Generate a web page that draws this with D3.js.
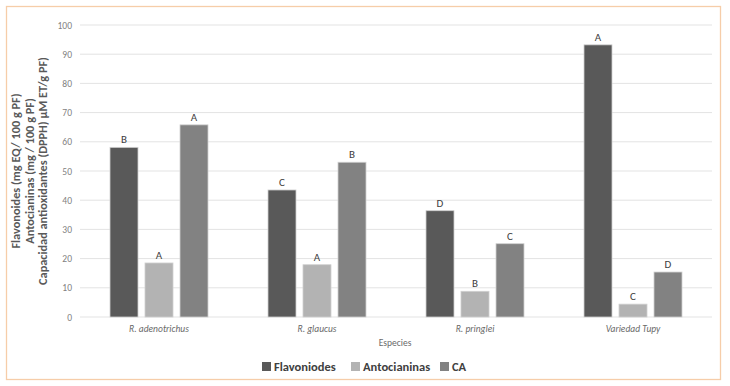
<!DOCTYPE html>
<html>
<head>
<meta charset="utf-8">
<script src="https://cdn.jsdelivr.net/npm/d3@7"></script>
<style>
  body { margin: 0; background: #fff; }
  svg { font-family: Calibri, Carlito, "Open Sans", sans-serif; }
</style>
</head>
<body>
<div id="chart"></div>
<script>
const SPECIES = ["R. adenotrichus", "R. glaucus", "R. pringlei", "Variedad Tupy"];
const SERIES = ["Flavoniodes", "Antocianinas", "CA"];
const FLAVONOIDES = [58.1, 43.5, 36.4, 93.2];
const ANTOCIANINAS = [18.5, 17.9, 8.8, 4.4];
const CA = [65.8, 53.0, 25.1, 15.4];
const LETTERS_FLAV = ["B", "C", "D", "A"];
const LETTERS_ANTO = ["A", "A", "B", "C"];
const LETTERS_CA = ["A", "B", "C", "D"];
const Y_TICKS = [0, 10, 20, 30, 40, 50, 60, 70, 80, 90, 100];
const COLORS = ["#595959", "#b3b3b3", "#828282"];

const W = 730, H = 386;
const margin = {left: 80, right: 18, top: 25, bottom: 69};

const svg = d3.select("#chart").append("svg")
  .attr("width", W).attr("height", H);

// outer frame
svg.append("rect")
  .attr("x", 6.5).attr("y", 6.5)
  .attr("width", 714).attr("height", 373)
  .attr("fill", "#fff")
  .attr("stroke", "#f6cda9").attr("stroke-width", 1.3);

const x0 = d3.scaleBand()
  .domain(SPECIES)
  .range([margin.left, W - margin.right]);
const x1 = d3.scaleBand()
  .domain(SERIES)
  .range([0, 98])
  .paddingInner(0.2);
const y = d3.scaleLinear()
  .domain([0, 100])
  .range([H - margin.bottom, margin.top]);

// grid
svg.append("g").selectAll("line")
  .data(Y_TICKS).enter().append("line")
  .attr("x1", margin.left).attr("x2", W - margin.right)
  .attr("y1", d => y(d)).attr("y2", d => y(d))
  .attr("stroke", "#e3e3e3").attr("stroke-width", 1);

// y axis labels
const yAxis = d3.axisLeft(y).tickValues(Y_TICKS).tickSize(0).tickPadding(8);
svg.append("g")
  .attr("transform", "translate(" + margin.left + ",0)")
  .call(yAxis)
  .call(g => g.select(".domain").remove())
  .selectAll("text")
  .attr("font-size", "9.5px")
  .attr("fill", "#7f7f7f")
  .attr("font-family", "Calibri, Carlito, 'Open Sans', sans-serif");

// y title (three lines)
const yTitle = ["Flavonoides (mg EQ/ 100 g PF)", "Antocianinas (mg / 100 g PF)", "Capacidad antioxidantes (DPPH) µM ET/g PF)"];
svg.append("g")
  .selectAll("text")
  .data(yTitle).enter().append("text")
  .attr("transform", (d, i) => "translate(" + (20 + i * 13.5) + "," + 171 + ") rotate(-90)")
  .attr("text-anchor", "middle")
  .attr("font-size", "12.3px")
  .attr("font-weight", "bold")
  .attr("fill", "#595959")
  .text(d => d);

// bars
const rows = SPECIES.map((s, i) => ({
  species: s,
  values: [
    {key: SERIES[0], v: FLAVONOIDES[i], letter: LETTERS_FLAV[i]},
    {key: SERIES[1], v: ANTOCIANINAS[i], letter: LETTERS_ANTO[i]},
    {key: SERIES[2], v: CA[i], letter: LETTERS_CA[i]}
  ]
}));
const color = d3.scaleOrdinal().domain(SERIES).range(COLORS);
const groups = svg.append("g").selectAll("g")
  .data(rows).enter().append("g")
  .attr("transform", d => "translate(" + (x0(d.species) + x0.bandwidth() / 2 - 49) + ",0)");

groups.selectAll("rect")
  .data(d => d.values).enter().append("rect")
  .attr("x", d => x1(d.key))
  .attr("width", x1.bandwidth())
  .attr("y", d => y(d.v))
  .attr("height", d => y(0) - y(d.v))
  .attr("fill", d => color(d.key))
  .attr("stroke", "#d0d0d0")
  .attr("stroke-width", 0.8);

groups.selectAll("text")
  .data(d => d.values).enter().append("text")
  .attr("x", d => x1(d.key) + x1.bandwidth() / 2)
  .attr("y", d => y(d.v) - 4)
  .attr("text-anchor", "middle")
  .attr("font-size", "11px")
  .attr("fill", "#404040")
  .text(d => d.letter);

// category labels
svg.append("g").selectAll("text")
  .data(SPECIES).enter().append("text")
  .attr("x", d => x0(d) + x0.bandwidth() / 2)
  .attr("y", y(0) + 15)
  .attr("text-anchor", "middle")
  .attr("font-size", "9.5px")
  .attr("font-style", "italic")
  .attr("fill", "#6a6a6a")
  .text(d => d);

svg.append("text")
  .attr("x", 395).attr("y", 346)
  .attr("text-anchor", "middle")
  .attr("font-size", "9.5px")
  .attr("fill", "#6a6a6a")
  .text("Especies");

// legend
const legendX = [262, 351, 440];
const legend = svg.append("g").selectAll("g")
  .data(SERIES).enter().append("g")
  .attr("transform", (d, i) => "translate(" + legendX[i] + ",362)");
legend.append("rect")
  .attr("width", 9).attr("height", 9)
  .attr("fill", d => color(d));
legend.append("text")
  .attr("x", 12).attr("y", 9)
  .attr("font-size", "12.5px")
  .attr("font-weight", "bold")
  .attr("fill", "#404040")
  .text(d => d);
</script>
</body>
</html>
